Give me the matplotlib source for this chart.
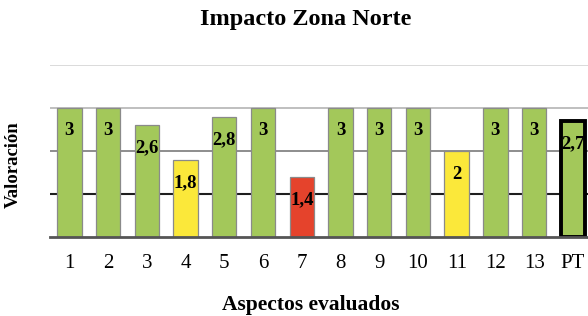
import matplotlib
matplotlib.use("Agg")
import matplotlib.pyplot as plt

# data
aspectos = ["1", "2", "3", "4", "5", "6", "7", "8", "9", "10", "11", "12", "13", "PT"]
valores = [3, 3, 2.6, 1.8, 2.8, 3, 1.4, 3, 3, 3, 2, 3, 3, 2.7]
colores = ["#a3c85a", "#a3c85a", "#a3c85a", "#fbe83a", "#a3c85a", "#a3c85a", "#e5432c",
           "#a3c85a", "#a3c85a", "#a3c85a", "#fbe83a", "#a3c85a", "#a3c85a", "#a3c85a"]

plt.rcParams["font.family"] = ["Liberation Serif", "DejaVu Serif"]

fig = plt.figure(figsize=(5.88, 3.16), dpi=100)
ax = fig.add_axes([50 / 588, 78.7 / 316, 538 / 588, 172.3 / 316])

# reference lines, each with its own shade
ax.axhline(4, color="#d4d4d4", lw=1.2, zorder=0)
ax.axhline(3, color="#b4b4b4", lw=1.2, zorder=0)
ax.axhline(2, color="#7a7a7a", lw=1.2, zorder=0)
ax.axhline(1, color="#1e1e1e", lw=1.5, zorder=0)

x = list(range(len(aspectos)))
bars = ax.bar(x, valores, width=0.63, color=colores, edgecolor="#8a8a8a", linewidth=0.9, zorder=2)
bars[-1].set_edgecolor("black")
bars[-1].set_linewidth(2.8)

for xi, v in zip(x, valores):
    txt = str(int(v)) if v == int(v) else str(v).replace(".", ",")
    ax.annotate(txt, (xi, v), xytext=(0, -16.5), textcoords="offset points",
                ha="center", va="center", fontsize=13.5, fontweight="bold", zorder=3)

ax.set_xlim(-0.5, 13.39)
ax.set_ylim(0, 4)
ax.set_xticks(x)
ax.set_xticklabels(aspectos, fontsize=15)
ax.set_yticks([])
ax.tick_params(axis="x", length=0, pad=12)
for s in ["top", "right", "left"]:
    ax.spines[s].set_visible(False)
ax.spines["bottom"].set_color("#555555")
ax.spines["bottom"].set_linewidth(2)
ax.spines["bottom"].set_zorder(4)

fig.text(306 / 588, 1 - 20 / 316, "Impacto Zona Norte", ha="center", va="center",
         fontsize=17.5, fontweight="bold")
fig.text(311 / 588, 1 - 305 / 316, "Aspectos evaluados", ha="center", va="center",
         fontsize=15.5, fontweight="bold")
fig.text(13 / 588, 1 - 165 / 316, "Valoración", ha="center", va="center",
         rotation=90, fontsize=13.5, fontweight="bold")

fig.savefig("out.png", dpi=100)
